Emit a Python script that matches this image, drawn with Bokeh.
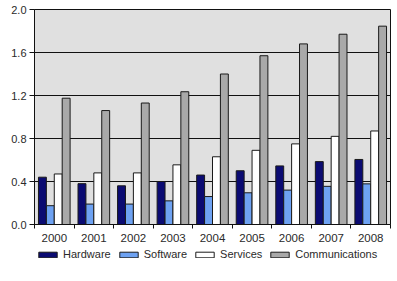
import numpy as np
from bokeh.plotting import figure
from bokeh.layouts import column
from bokeh.models import (ColumnDataSource, FixedTicker, LinearAxis, Range1d,
                          Legend, LegendItem, NumeralTickFormatter)
from bokeh.transform import dodge
from bokeh.embed import file_html
from bokeh.resources import INLINE

# Spending by segment, 2000-2008
years = ["2000", "2001", "2002", "2003", "2004", "2005", "2006", "2007", "2008"]
hardware = [0.44, 0.38, 0.36, 0.40, 0.46, 0.50, 0.545, 0.585, 0.605]
software = [0.175, 0.19, 0.19, 0.22, 0.26, 0.295, 0.32, 0.355, 0.378]
services = [0.47, 0.48, 0.48, 0.555, 0.63, 0.69, 0.75, 0.82, 0.87]
communications = [1.175, 1.06, 1.13, 1.235, 1.40, 1.57, 1.68, 1.77, 1.845]
y_ticks = [0.0, 0.4, 0.8, 1.2, 1.6, 2.0]

series = [
    ("Hardware", hardware, "#0b0b72"),
    ("Software", software, "#6ea2f2"),
    ("Services", services, "#ffffff"),
    ("Communications", communications, "#a9a9a9"),
]

n = len(years)
centers = np.arange(n) + 0.5
data = {"x": centers}
for name, vals, _ in series:
    data[name] = vals
source = ColumnDataSource(data)

FONT = "Liberation Sans"
TXT = "#2a2a2a"
LINE = "#111111"

p = figure(width=397, height=245, output_backend="svg", toolbar_location=None,
           x_range=Range1d(0, n), y_range=Range1d(0, 2.0),
           x_axis_location=None, y_axis_location=None,
           min_border_left=34, min_border_right=7, min_border_top=9,
           min_border_bottom=21)
p.background_fill_color = "#e0e0e0"
p.border_fill_color = "white"
p.outline_line_color = LINE
p.outline_line_width = 1

# x axis: year labels centred, tick marks on the group boundaries
xaxis = LinearAxis(ticker=FixedTicker(ticks=list(centers), minor_ticks=list(range(n + 1))))
xaxis.major_label_overrides = {float(c): y for c, y in zip(centers, years)}
xaxis.major_tick_line_color = None
xaxis.major_tick_out = 0
xaxis.major_tick_in = 0
xaxis.minor_tick_out = 4
xaxis.minor_tick_in = 0
xaxis.minor_tick_line_color = LINE
xaxis.axis_line_color = LINE
xaxis.major_label_standoff = 5
xaxis.major_label_text_font = FONT
xaxis.major_label_text_font_size = "11.5px"
xaxis.major_label_text_color = TXT
p.add_layout(xaxis, "below")

yaxis = LinearAxis(ticker=FixedTicker(ticks=y_ticks, minor_ticks=[]),
                   formatter=NumeralTickFormatter(format="0.0"))
yaxis.major_tick_out = 5
yaxis.major_tick_in = 0
yaxis.major_tick_line_color = LINE
yaxis.axis_line_color = LINE
yaxis.major_label_standoff = 3
yaxis.major_label_text_font = FONT
yaxis.major_label_text_font_size = "11px"
yaxis.major_label_text_color = TXT
p.add_layout(yaxis, "left")

p.xgrid.visible = False
p.ygrid.ticker = FixedTicker(ticks=y_ticks)
p.ygrid.grid_line_color = LINE
p.ygrid.grid_line_width = 1

bar_w = 0.2
offsets = [-0.3, -0.1, 0.1, 0.3]
for (name, _, color), off in zip(series, offsets):
    p.vbar(x=dodge("x", off), top=name, width=bar_w, source=source,
           fill_color=color, line_color="#1a1a1a", line_width=1)

# Legend strip under the chart: same bar styles, its view window kept
# above the data so only the legend itself shows.
lf = figure(width=397, height=36, output_backend="svg", toolbar_location=None,
            x_range=Range1d(0, n), y_range=Range1d(10, 11),
            x_axis_location=None, y_axis_location=None,
            min_border_left=0, min_border_right=0, min_border_top=0,
            min_border_bottom=0)
lf.outline_line_color = None
lf.background_fill_color = "white"
lf.border_fill_color = "white"
lf.xgrid.visible = False
lf.ygrid.visible = False
items = []
for (name, _, color), off in zip(series, offsets):
    r = lf.vbar(x=dodge("x", off), top=name, width=bar_w, source=source,
                fill_color=color, line_color="#1a1a1a", line_width=1)
    items.append(LegendItem(label=name, renderers=[r]))

legend = Legend(items=items, orientation="horizontal", location=(2, 21),
                glyph_width=23, glyph_height=7, label_height=12,
                label_standoff=4, spacing=6, padding=0, margin=0,
                border_line_color=None, background_fill_alpha=0,
                label_text_font=FONT, label_text_font_size="11px",
                label_text_color=TXT)
lf.add_layout(legend, "center")

open("out.html", "w").write(file_html(column(p, lf, spacing=0), INLINE))
